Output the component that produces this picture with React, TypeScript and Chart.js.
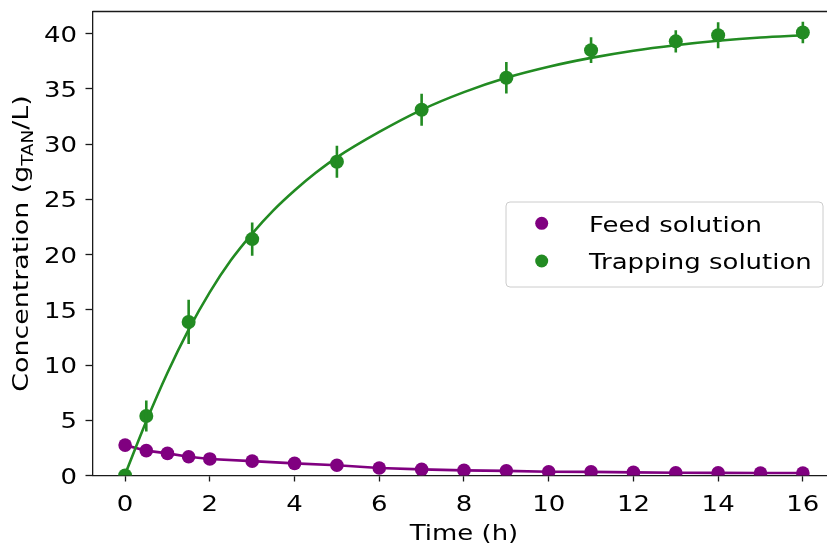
import React, { useEffect, useRef } from "react";
import { Chart, registerables } from "chart.js";

Chart.register(...registerables);

const feedTimes = [0, 0.5, 1, 1.5, 2, 3, 4, 5, 6, 7, 8, 9, 10, 11, 12, 13, 14, 15, 16];
const feedValues = [2.75, 2.25, 2.0, 1.7, 1.5, 1.3, 1.1, 0.93, 0.68, 0.55, 0.46, 0.42, 0.34, 0.33, 0.28, 0.25, 0.24, 0.22, 0.22];

const trapTimes = [0, 0.5, 1.5, 3, 5, 7, 9, 11, 13, 14, 16];
const trapValues = [0, 5.38, 13.9, 21.4, 28.4, 33.1, 36.0, 38.5, 39.3, 39.85, 40.1];
const trapErrors = [0, 1.4, 2.0, 1.5, 1.45, 1.45, 1.43, 1.17, 1.0, 1.18, 0.98];

const fitTimes = [0, 0.5, 1, 1.5, 2, 2.5, 3, 3.5, 4, 4.5, 5, 6, 7, 8, 9, 10, 11, 12, 13, 14, 15, 16];
const fitValues = [0.1, 4.9, 9.3, 13.2, 16.6, 19.5, 21.9, 24.0, 25.8, 27.4, 28.8, 31.1, 33.1, 34.7, 36.0, 37.0, 37.8, 38.45, 38.95, 39.35, 39.65, 39.85];

const xTicks = [0, 2, 4, 6, 8, 10, 12, 14, 16];
const yTicks = [0, 5, 10, 15, 20, 25, 30, 35, 40];

const seriesLabels = ["Feed solution", "Trapping solution"];
const xTitle = "Time (h)";
const yTitleParts = ["Concentration (g", "TAN", "/L)"];

const PURPLE = "#800080";
const GREEN = "#228B22";
const FONT = "DejaVu Sans";
const MAIN_FONT = `22px "${FONT}"`;
const SUB_FONT = `15px "${FONT}"`;
const STRETCH = 1.18;

function stretchedText(ctx: any, text: string, x: number, y: number, align: string, sx: number) {
  ctx.save();
  ctx.translate(x, y);
  ctx.scale(sx, 1);
  ctx.textAlign = align;
  ctx.textBaseline = "alphabetic";
  ctx.fillText(text, 0, 0);
  ctx.restore();
}

const errorBarPlugin = {
  id: "errorBars",
  afterDatasetsDraw(chart: any) {
    const { ctx, chartArea } = chart;
    const xs = chart.scales.x;
    const ys = chart.scales.y;
    ctx.save();
    ctx.beginPath();
    ctx.rect(chartArea.left, chartArea.top, chartArea.right - chartArea.left, chartArea.bottom - chartArea.top);
    ctx.clip();
    ctx.strokeStyle = GREEN;
    ctx.lineWidth = 2.6;
    trapTimes.forEach((t, i) => {
      const e = trapErrors[i];
      if (!e) return;
      const px = xs.getPixelForValue(t);
      ctx.beginPath();
      ctx.moveTo(px, ys.getPixelForValue(trapValues[i] - e));
      ctx.lineTo(px, ys.getPixelForValue(trapValues[i] + e));
      ctx.stroke();
    });
    ctx.restore();
  },
};

const framePlugin = {
  id: "frameAndTitles",
  afterDraw(chart: any) {
    const { ctx, chartArea } = chart;
    const xs = chart.scales.x;
    const ys = chart.scales.y;
    ctx.save();
    ctx.strokeStyle = "#1a1a1a";
    ctx.lineWidth = 1.3;
    ctx.beginPath();
    ctx.moveTo(chartArea.left, chartArea.top);
    ctx.lineTo(chartArea.right, chartArea.top);
    ctx.stroke();

    ctx.fillStyle = "#000";
    ctx.font = MAIN_FONT;
    // tick labels
    xTicks.forEach((v) => {
      stretchedText(ctx, String(v), xs.getPixelForValue(v), chartArea.bottom + 35.3, "center", STRETCH);
    });
    yTicks.forEach((v) => {
      stretchedText(ctx, String(v), chartArea.left - 15.5, ys.getPixelForValue(v) + 8, "right", STRETCH);
    });

    // x title
    stretchedText(ctx, xTitle, xs.getPixelForValue(8), 540, "center", STRETCH);

    // y title with subscript
    const cy = (chartArea.top + chartArea.bottom) / 2;
    ctx.save();
    ctx.translate(27.5, cy);
    ctx.rotate(-Math.PI / 2);
    const sx = 1.22;
    ctx.scale(sx, 1);
    ctx.font = MAIN_FONT;
    const w0 = ctx.measureText(yTitleParts[0]).width;
    const w2 = ctx.measureText(yTitleParts[2]).width;
    ctx.font = SUB_FONT;
    const w1 = ctx.measureText(yTitleParts[1]).width;
    const total = w0 + w1 + w2;
    let x = -total / 2;
    ctx.textAlign = "left";
    ctx.textBaseline = "alphabetic";
    ctx.font = MAIN_FONT;
    ctx.fillText(yTitleParts[0], x, 0);
    x += w0;
    ctx.font = SUB_FONT;
    ctx.fillText(yTitleParts[1], x, 5);
    x += w1;
    ctx.font = MAIN_FONT;
    ctx.fillText(yTitleParts[2], x, 0);
    ctx.restore();
    ctx.restore();

    // legend
    ctx.save();
    const lx = 506, ly = 202, lw = 317, lh = 85;
    ctx.beginPath();
    ctx.roundRect(lx, ly, lw, lh, 4);
    ctx.fillStyle = "rgba(255,255,255,0.8)";
    ctx.fill();
    ctx.strokeStyle = "#cccccc";
    ctx.lineWidth = 1;
    ctx.stroke();
    const colors = [PURPLE, GREEN];
    const rows = [223.3, 261];
    ctx.font = MAIN_FONT;
    seriesLabels.forEach((lab, i) => {
      ctx.beginPath();
      ctx.arc(541.7, rows[i], 6.5, 0, Math.PI * 2);
      ctx.fillStyle = colors[i];
      ctx.fill();
      ctx.fillStyle = "#000";
      stretchedText(ctx, lab, 589, rows[i] + 8.2, "left", STRETCH);
    });
    ctx.restore();
  },
};

const zeroPad = (s: any) => {
  s.paddingLeft = 0;
  s.paddingRight = 0;
  s.paddingTop = 0;
  s.paddingBottom = 0;
};

export default function App() {
  const canvasRef = useRef<HTMLCanvasElement | null>(null);

  useEffect(() => {
    document.body.style.margin = "0";
    const canvas = canvasRef.current;
    if (!canvas) return;
    const chart = new Chart(canvas, {
      type: "line",
      data: {
        datasets: [
          {
            label: seriesLabels[0] + " line",
            data: feedTimes.map((t, i) => ({ x: t, y: feedValues[i] })),
            borderColor: PURPLE,
            borderWidth: 2.6,
            pointRadius: 0,
            tension: 0,
            order: 4,
            clip: 0,
          } as any,
          {
            label: seriesLabels[0],
            data: feedTimes.map((t, i) => ({ x: t, y: feedValues[i] })),
            showLine: false,
            pointRadius: 6.8,
            pointBackgroundColor: PURPLE,
            pointBorderWidth: 0,
            borderColor: PURPLE,
            order: 3,
            clip: 0,
          } as any,
          {
            label: seriesLabels[1] + " fit",
            data: fitTimes.map((t, i) => ({ x: t, y: fitValues[i] })),
            borderColor: GREEN,
            borderWidth: 2.6,
            pointRadius: 0,
            cubicInterpolationMode: "monotone",
            order: 2,
            clip: 0,
          } as any,
          {
            label: seriesLabels[1],
            data: trapTimes.map((t, i) => ({ x: t, y: trapValues[i] })),
            showLine: false,
            pointRadius: 7,
            pointBackgroundColor: GREEN,
            pointBorderWidth: 0,
            borderColor: GREEN,
            order: 1,
            clip: 0,
          } as any,
        ],
      },
      options: {
        animation: false,
        responsive: false,
        maintainAspectRatio: false,
        layout: { autoPadding: false, padding: { top: 11.5, right: 0, left: 0, bottom: 0 } },
        plugins: {
          legend: { display: false },
          tooltip: { enabled: false },
        },
        scales: {
          x: {
            type: "linear",
            min: -0.77,
            max: 16.57,
            afterBuildTicks: (s: any) => {
              s.ticks = xTicks.map((v) => ({ value: v }));
            },
            afterFit: (s: any) => {
              s.height = 72.5;
              zeroPad(s);
            },
            ticks: { display: false, autoSkip: false },
            grid: { drawOnChartArea: false, drawTicks: true, tickLength: 6, color: "#1a1a1a", tickWidth: 1.3 },
            border: { display: true, color: "#1a1a1a", width: 1.3 },
          },
          y: {
            type: "linear",
            min: 0,
            max: 42,
            afterBuildTicks: (s: any) => {
              s.ticks = yTicks.map((v) => ({ value: v }));
            },
            afterFit: (s: any) => {
              s.width = 92.5;
              zeroPad(s);
            },
            ticks: { display: false, autoSkip: false },
            grid: { drawOnChartArea: false, drawTicks: true, tickLength: 7, color: "#1a1a1a", tickWidth: 1.3 },
            border: { display: true, color: "#1a1a1a", width: 1.3 },
          },
        },
      },
      plugins: [errorBarPlugin, framePlugin],
    });
    return () => chart.destroy();
  }, []);

  return (
    <div style={{ position: "fixed", left: 0, top: 0, width: 827, height: 548, background: "#fff" }}>
      <canvas ref={canvasRef} width={827} height={548} style={{ width: 827, height: 548, display: "block" }} />
    </div>
  );
}
